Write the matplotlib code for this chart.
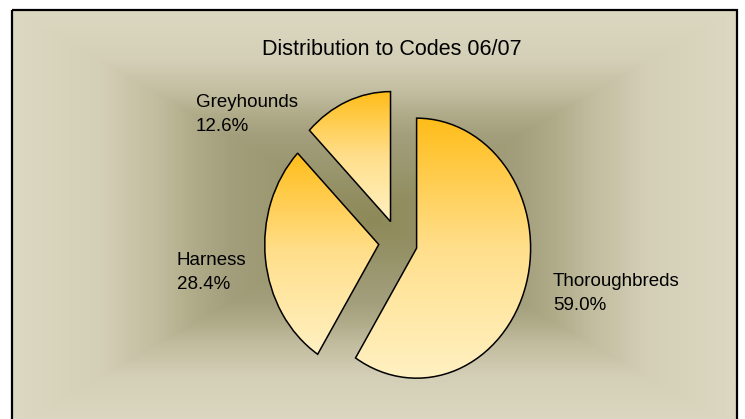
import numpy as np
import matplotlib
matplotlib.use("Agg")
import matplotlib.pyplot as plt

from matplotlib.colors import LinearSegmentedColormap
from matplotlib.patches import Rectangle


# Chart data
title = "Distribution to Codes 06/07"
codes = ["Thoroughbreds", "Harness", "Greyhounds"]
shares = [59.0, 28.4, 12.6]
explode = [0.17, 0.17, 0.17]


def main():

	W = 745
	H = 419
	font_list = ["Liberation Sans Narrow", "Liberation Sans", "DejaVu Sans"]

	fig = plt.figure(figsize = (W / 100.0, H / 100.0), dpi = 100)
	fig.patch.set_facecolor("white")

	# Background axes, pixel coordinates (y goes down)
	bg = fig.add_axes([0, 0, 1, 1])

	x0, y0, x1, y1 = 12, 10, 737, 428
	xs = np.linspace(x0, x1, 600)
	ys = np.linspace(y0, y1, 400)
	X, Y = np.meshgrid(xs, ys)
	cx = (x0 + x1) / 2.0
	cy = (y0 + y1) / 2.0
	# rectangular "from centre" gradient
	t = np.maximum(np.abs(X - cx) / ((x1 - x0) / 2.0), np.abs(Y - cy) / ((y1 - y0) / 2.0))
	bg_stops = [(0.0, "#8d8958"), (0.4, "#a39f7d"), (0.5, "#b0ab88"), (0.6, "#c2bd9f"),
		(0.76, "#d4cfb7"), (1.0, "#ddd8c1")]
	bg_cmap = LinearSegmentedColormap.from_list("bg", bg_stops)
	bg.imshow(t, cmap = bg_cmap, extent = (x0, x1, y1, y0), aspect = "auto",
		interpolation = "bilinear", vmin = 0, vmax = 1)
	bg.add_patch(Rectangle((x0, y0), x1 - x0, y1 - y0, fill = False, ec = "black", lw = 1.6))
	bg.set_xlim(0, W)
	bg.set_ylim(H, 0)
	bg.axis("off")

	# Pie axes - the original pie is a bit squashed, so aspect is not equal
	rx = 114.0
	ry = 130.0
	pcx = 398.0
	pcy = 242.0
	ax = fig.add_axes([(pcx - 1.25 * rx) / W, (H - pcy - 1.25 * ry) / H, 2.5 * rx / W, 2.5 * ry / H])
	ax.patch.set_alpha(0)

	wedges, _ = ax.pie(shares, explode = explode, startangle = 90, counterclock = False,
		wedgeprops = dict(ec = "black", lw = 1.1))

	grad = np.linspace(0, 1, 256).reshape(-1, 1)
	w_cmap = LinearSegmentedColormap.from_list("w", ["#fff1c2", "#ffdf8c", "#ffbd1a"])
	for w in wedges:
		bb = w.get_path().get_extents()
		w.set_facecolor("none")
		im = ax.imshow(grad, cmap = w_cmap, extent = (bb.x0, bb.x1, bb.y0, bb.y1),
			origin = "lower", aspect = "auto", zorder = 0.5)
		im.set_clip_path(w)
	#end_for

	ax.set_aspect("auto")
	ax.set_xlim(-1.25, 1.25)
	ax.set_ylim(-1.25, 1.25)
	ax.axis("off")

	# Title and labels (pixel positions, baselines)
	bg.text(392, 55, title, fontsize = 15.5, family = font_list, ha = "center", va = "baseline")

	label_pos = [(553, 286), (177, 265), (196, 107)]
	for i in range(len(codes)):
		lx, ly = label_pos[i]
		bg.text(lx, ly, codes[i], fontsize = 13.5, family = font_list, va = "baseline")
		bg.text(lx, ly + 24, "%.1f%%" % shares[i], fontsize = 13.5, family = font_list, va = "baseline")
	#end_for

	fig.savefig("out.png", dpi = 100)

	return

#end_def


main()
